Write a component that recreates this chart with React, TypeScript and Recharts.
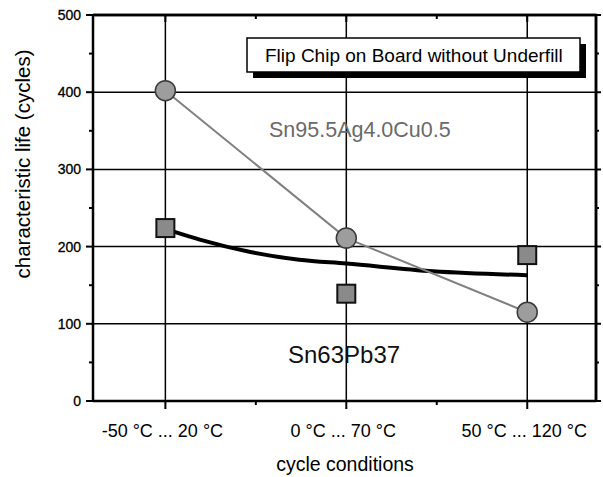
import React from "react";
import {
  ComposedChart,
  Line,
  XAxis,
  YAxis,
  CartesianGrid,
  ReferenceLine,
  Customized,
} from "recharts";

const conditionLabels = ["-50 °C ... 20 °C", "0 °C ... 70 °C", "50 °C ... 120 °C"];
const conditionPos = [1, 2, 3];
const xMinorTicks = [1, 1.5, 2, 2.5, 3];
const yTicks = [0, 50, 100, 150, 200, 250, 300, 350, 400, 450, 500];
const snAgCuLife = [402, 211, 115];
const snPbLife = [224, 139, 189];
const fitPos = [1.05, 1.19, 1.47, 1.74, 2, 2.48, 3];
const fitLife = [219, 209, 193, 183, 178, 168, 163];

const agData = conditionPos.map((x, i) => ({ x, y: snAgCuLife[i] }));
const pbData = conditionPos.map((x, i) => ({ x, y: snPbLife[i] }));
const fitData = fitPos.map((x, i) => ({ x, y: fitLife[i] }));

const X_DOMAIN: [number, number] = [0.6, 3.38];
const Y_DOMAIN: [number, number] = [0, 500];

const CHART_W = 603;
const CHART_H = 477;
const MARGIN = { top: 15, right: 7, left: 0, bottom: 0 };
const Y_AXIS_W = 93;
const X_AXIS_H = 76;
const PLOT = {
  left: MARGIN.left + Y_AXIS_W,
  top: MARGIN.top,
  right: CHART_W - MARGIN.right,
  bottom: CHART_H - MARGIN.bottom - X_AXIS_H,
};

const FONT = "'Liberation Sans', Arial, Helvetica, sans-serif";

const labelFor = (v: number) => {
  const i = conditionPos.indexOf(v);
  return i >= 0 ? conditionLabels[i] : "";
};

const BottomTick = (props: any) => {
  const { x, y, payload } = props;
  const v = payload.value;
  const major = Number.isInteger(v);
  return (
    <g>
      <line x1={x} x2={x} y1={y} y2={y + (major ? 8 : 4)} stroke="#000" strokeWidth={2} />
      {major && (
        <text x={x - 3} y={y + 36} textAnchor="middle" fontSize={18} fontFamily={FONT} fill="#000">
          {labelFor(v)}
        </text>
      )}
    </g>
  );
};

const LeftTick = (props: any) => {
  const { x, y, payload } = props;
  const v = payload.value;
  const major = v % 100 === 0;
  return (
    <g>
      <line x1={x - (major ? 7 : 4)} x2={x} y1={y} y2={y} stroke="#000" strokeWidth={2} />
      {major && (
        <text x={x - 12} y={y} dy="0.36em" textAnchor="end" fontSize={14} fontFamily={FONT} fill="#000" stroke="#000" strokeWidth={0.3}>
          {v}
        </text>
      )}
    </g>
  );
};

const CircleDot = (props: any) => {
  const { cx, cy, index } = props;
  return <circle key={`c${index}`} cx={cx} cy={cy} r={10} fill="#9d9d9d" stroke="#3a3a3a" strokeWidth={1.5} />;
};

const SquareDot = (props: any) => {
  const { cx, cy, index } = props;
  return (
    <rect key={`s${index}`} x={cx - 9} y={cy - 9} width={18} height={18} fill="#8a8a8a" stroke="#111" strokeWidth={2} />
  );
};

const xToPx = (v: number) =>
  PLOT.left + ((v - X_DOMAIN[0]) / (X_DOMAIN[1] - X_DOMAIN[0])) * (PLOT.right - PLOT.left);
const yToPx = (v: number) =>
  PLOT.bottom - ((v - Y_DOMAIN[0]) / (Y_DOMAIN[1] - Y_DOMAIN[0])) * (PLOT.bottom - PLOT.top);

const topTickPath = xMinorTicks
  .map((v) => `M${xToPx(v)},${PLOT.top} v${Number.isInteger(v) ? 7 : 4}`)
  .join(" ");
const rightTickPath = yTicks
  .map((v) => `M${PLOT.right},${yToPx(v)} h${v % 100 === 0 ? 5 : 3}`)
  .join(" ");

const Annotations = () => (
  <g fontFamily={FONT}>
    <path
      d={`M${PLOT.left},${PLOT.top} H${PLOT.right} V${PLOT.bottom}`}
      fill="none"
      stroke="#000"
      strokeWidth={2.5}
    />
    <path d={topTickPath} stroke="#000" strokeWidth={2} fill="none" />
    <path d={rightTickPath} stroke="#000" strokeWidth={2} fill="none" />
    <rect x={253} y={44} width={333} height={34} fill="#000" />
    <rect x={247} y={38} width={333} height={34} fill="#fff" stroke="#000" strokeWidth={1.5} />
    <text x={265} y={62} fontSize={19} fill="#000">
      Flip Chip on Board without Underfill
    </text>
    <text x={269} y={137} fontSize={21.5} fill="#6a6a6a">
      Sn95.5Ag4.0Cu0.5
    </text>
    <text x={288} y={363} fontSize={24} fill="#111">
      Sn63Pb37
    </text>
    <text x={345} y={471} textAnchor="middle" fontSize={19.5} fill="#000">
      cycle conditions
    </text>
    <text
      x={30}
      y={164}
      textAnchor="middle"
      fontSize={20.5}
      fill="#000"
      transform="rotate(-90 30 164)"
    >
      characteristic life (cycles)
    </text>
  </g>
);

export default function App() {
  return (
    <div style={{ position: "absolute", left: 0, top: 0, width: CHART_W, height: CHART_H, background: "#fff" }}>
      <ComposedChart
        width={CHART_W}
        height={CHART_H}
        margin={MARGIN}
        style={{ fontFamily: FONT }}
      >
        <CartesianGrid
          xAxisId="b"
          yAxisId="l"
          horizontalValues={[100, 200, 300, 400]}
          verticalValues={[1, 2, 3]}
          stroke="#000"
          strokeWidth={1.5}
        />
        <XAxis
          xAxisId="b"
          type="number"
          dataKey="x"
          domain={X_DOMAIN}
          ticks={xMinorTicks}
          orientation="bottom"
          height={X_AXIS_H}
          tickSize={0}
          tickMargin={0}
          tickLine={false}
          tick={<BottomTick />}
          axisLine={{ stroke: "#000", strokeWidth: 2.5 }}
          allowDataOverflow
        />
        <YAxis
          yAxisId="l"
          type="number"
          domain={Y_DOMAIN}
          ticks={yTicks}
          width={Y_AXIS_W}
          tickSize={0}
          tickMargin={0}
          tickLine={false}
          tick={<LeftTick />}
          axisLine={{ stroke: "#000", strokeWidth: 2.5 }}
          allowDataOverflow
        />
        <ReferenceLine xAxisId="b" yAxisId="l" y={Y_DOMAIN[1]} stroke="#000" strokeWidth={2.5} ifOverflow="visible" />
        <ReferenceLine xAxisId="b" yAxisId="l" x={X_DOMAIN[1]} stroke="#000" strokeWidth={2.5} ifOverflow="visible" />
        <Line
          xAxisId="b"
          yAxisId="l"
          data={fitData}
          dataKey="y"
          type="monotone"
          stroke="#000"
          strokeWidth={4}
          dot={false}
          isAnimationActive={false}
        />
        <Line
          xAxisId="b"
          yAxisId="l"
          data={agData}
          dataKey="y"
          type="linear"
          stroke="#808080"
          strokeWidth={2}
          dot={<CircleDot />}
          isAnimationActive={false}
        />
        <Line
          xAxisId="b"
          yAxisId="l"
          data={pbData}
          dataKey="y"
          type="linear"
          stroke="none"
          strokeWidth={0}
          dot={<SquareDot />}
          isAnimationActive={false}
        />
        <Customized component={<Annotations />} />
      </ComposedChart>
    </div>
  );
}
